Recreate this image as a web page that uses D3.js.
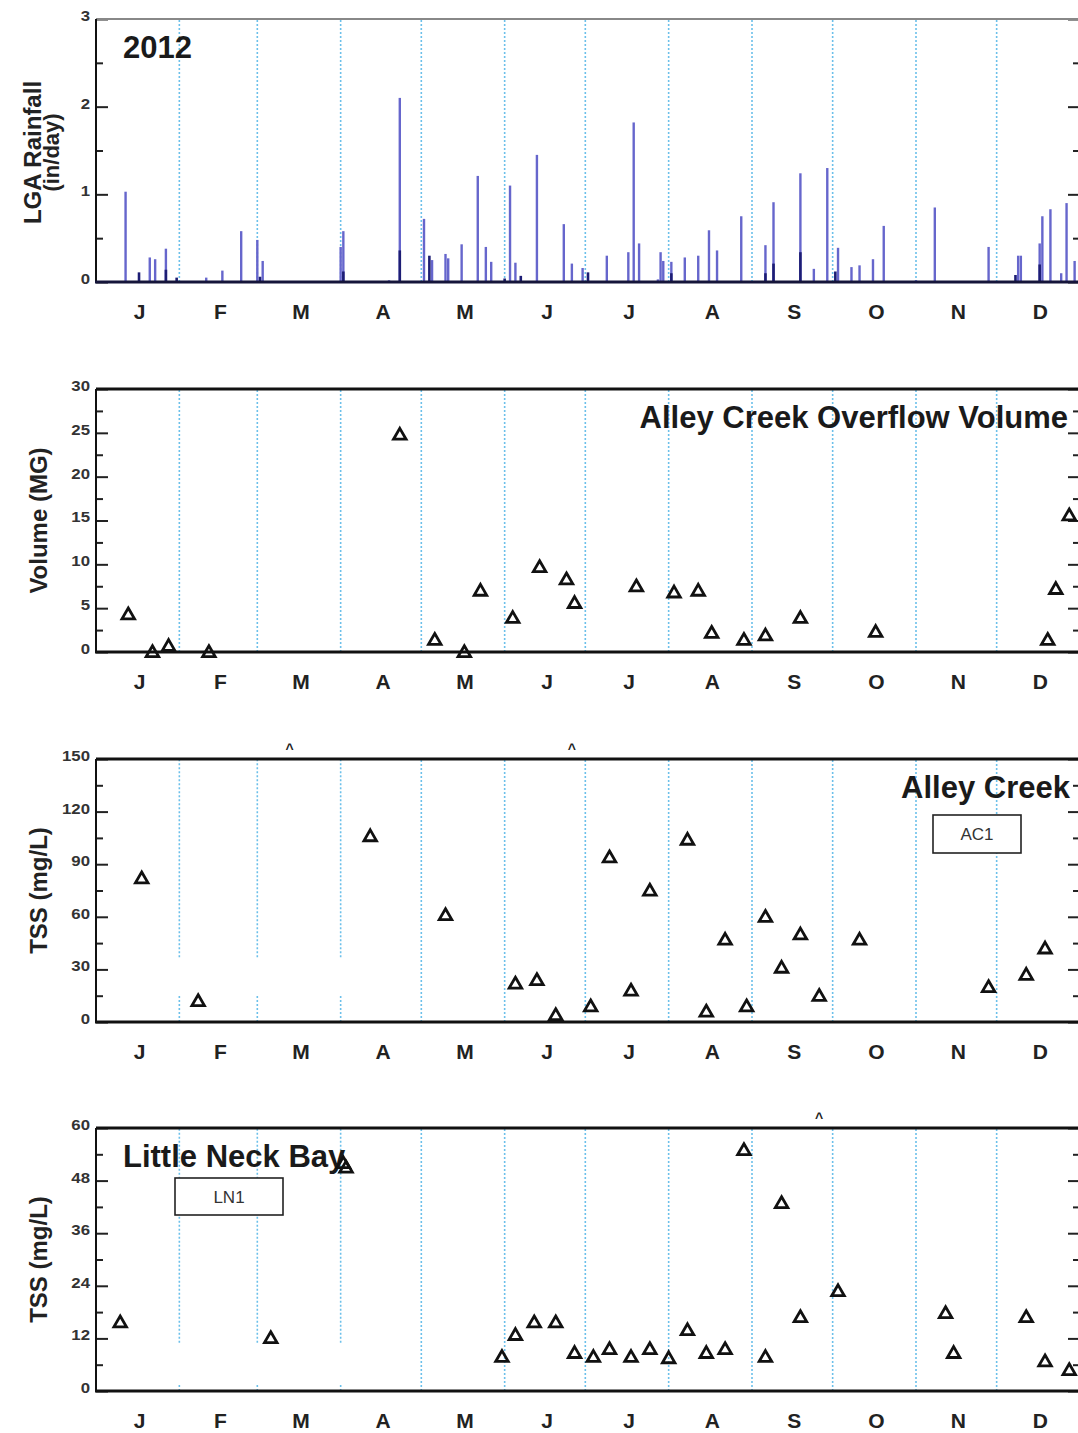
<!DOCTYPE html>
<html>
<head>
<meta charset="utf-8">
<script src="https://cdn.jsdelivr.net/npm/d3@7"></script>
<style>
  body { margin: 0; background: #fff; }
  svg { display: block; font-family: "Liberation Sans", Arial, sans-serif; }
</style>
</head>
<body>
<div id="chart"></div>
<script>
// ---- data ----
const monthLetters = ["J", "F", "M", "A", "M", "J", "J", "A", "S", "O", "N", "D"];

// LGA daily rainfall (in/day), 2012
const rainDates = ["2012-01-12","2012-01-21","2012-01-23","2012-01-27","2012-02-11","2012-02-17","2012-02-24",
  "2012-03-01","2012-03-03","2012-03-13","2012-04-01","2012-04-02","2012-04-19","2012-04-23","2012-05-02",
  "2012-05-05","2012-05-10","2012-05-11","2012-05-16","2012-05-22","2012-05-25","2012-05-27","2012-06-03",
  "2012-06-05","2012-06-13","2012-06-23","2012-06-26","2012-06-30","2012-07-09","2012-07-17","2012-07-19",
  "2012-07-21","2012-07-28","2012-07-29","2012-07-30","2012-08-02","2012-08-07","2012-08-12","2012-08-16",
  "2012-08-19","2012-08-28","2012-09-06","2012-09-09","2012-09-19","2012-09-24","2012-09-29","2012-10-03",
  "2012-10-08","2012-10-11","2012-10-16","2012-10-20","2012-11-01","2012-11-08","2012-11-28","2012-12-09",
  "2012-12-10","2012-12-17","2012-12-18","2012-12-21","2012-12-25","2012-12-27","2012-12-30"];
const rainValues = [1.03,0.28,0.26,0.38,0.05,0.13,0.58,
  0.48,0.24,0.01,0.40,0.58,0.02,2.10,0.72,
  0.25,0.32,0.27,0.43,1.21,0.40,0.23,1.10,
  0.22,1.45,0.66,0.21,0.16,0.30,0.34,1.82,
  0.44,0.03,0.34,0.24,0.23,0.28,0.30,0.59,
  0.36,0.75,0.42,0.91,1.24,0.15,1.30,0.39,
  0.17,0.19,0.26,0.64,0.02,0.85,0.40,0.30,
  0.30,0.44,0.75,0.83,0.10,0.90,0.24];

// darker short bars in the rainfall panel
const rainDarkDates = ["2012-01-17","2012-01-27","2012-01-31","2012-03-02","2012-04-02","2012-04-23","2012-05-04",
  "2012-06-01","2012-06-07","2012-07-02","2012-08-02","2012-09-06","2012-09-09","2012-09-19","2012-10-02",
  "2012-12-08","2012-12-17"];
const rainDarkValues = [0.11,0.14,0.05,0.06,0.12,0.36,0.30,
  0.04,0.07,0.11,0.10,0.10,0.21,0.34,0.12,
  0.08,0.20];

// Alley Creek overflow volume (MG)
const volumeDates = ["2012-01-13","2012-01-22","2012-01-28","2012-02-12","2012-04-23","2012-05-06","2012-05-17",
  "2012-05-23","2012-06-04","2012-06-14","2012-06-24","2012-06-27","2012-07-20","2012-08-03","2012-08-12",
  "2012-08-17","2012-08-29","2012-09-06","2012-09-19","2012-10-17","2012-12-20","2012-12-23","2012-12-28"];
const volumeValues = [4.3,0,0.7,0,24.8,1.4,0,
  7.0,3.9,9.7,8.3,5.6,7.5,6.8,7.0,
  2.2,1.4,1.9,3.9,2.3,1.4,7.2,15.6];

// Alley Creek TSS (mg/L), station AC1
const tssACDates = ["2012-01-18","2012-02-08","2012-04-12","2012-05-10","2012-06-05","2012-06-13","2012-06-20",
  "2012-07-03","2012-07-10","2012-07-18","2012-07-25","2012-08-08","2012-08-15","2012-08-22","2012-08-30",
  "2012-09-06","2012-09-12","2012-09-19","2012-09-26","2012-10-11","2012-11-28","2012-12-12","2012-12-19"];
const tssACValues = [82,12,106,61,22,24,4,
  9,94,18,75,104,6,47,9,
  60,31,50,15,47,20,27,42];
const tssACOffScale = ["2012-03-13","2012-06-26"];

// Little Neck Bay TSS (mg/L), station LN1
const tssLNDates = ["2012-01-10","2012-03-06","2012-04-02","2012-04-03","2012-05-31","2012-06-05","2012-06-12",
  "2012-06-20","2012-06-27","2012-07-04","2012-07-10","2012-07-18","2012-07-25","2012-08-01","2012-08-08",
  "2012-08-15","2012-08-22","2012-08-29","2012-09-06","2012-09-12","2012-09-19","2012-10-03","2012-11-12",
  "2012-11-15","2012-12-12","2012-12-19","2012-12-28"];
const tssLNValues = [15.7,12.1,52,51,7.8,12.8,15.7,
  15.7,8.7,7.8,9.6,7.8,9.6,7.5,13.9,
  8.7,9.6,55,7.8,42.9,16.9,22.8,17.8,
  8.7,16.9,6.8,4.8];
const tssLNOffScale = ["2012-09-26"];

// ---- layout ----
const width = 1078, height = 1433;
const parse = d3.utcParse("%Y-%m-%d");
const x = d3.scaleUtc()
  .domain([new Date(Date.UTC(2012, 0, 1)), new Date(Date.UTC(2013, 0, 1))])
  .range([96, 1080]);
const months = d3.utcMonths(new Date(Date.UTC(2012, 0, 1)), new Date(Date.UTC(2013, 0, 1)));

const svg = d3.select("#chart").append("svg")
  .attr("width", width)
  .attr("height", height);

function drawPanel(p) {
  const y = d3.scaleLinear().domain([0, p.max]).range([p.bottom, p.top]);
  const g = svg.append("g");

  // dotted month boundaries
  months.slice(1).forEach((m, i) => {
    const gap = p.gaps && p.gaps.months.includes(i + 1) ? p.gaps.range : null;
    const segs = gap ? [[0, gap[0]], [gap[1], p.max]] : [[0, p.max]];
    segs.forEach((s) => {
      g.append("line")
        .attr("x1", x(m)).attr("x2", x(m))
        .attr("y1", y(s[0])).attr("y2", y(s[1]))
        .attr("stroke", "#6cc0ea")
        .attr("stroke-width", 1.6)
        .attr("stroke-dasharray", "2,2");
    });
  });

  // ticks left and right (inward)
  const majors = d3.range(0, p.max + 0.001, p.major);
  const minors = d3.range(0, p.max + 0.001, p.major / 2).filter((v) => !majors.some((m) => Math.abs(m - v) < 1e-6));

  const left = g.append("g").attr("transform", "translate(96,0)")
    .call(d3.axisLeft(y).tickValues(majors).tickSize(-12).tickPadding(5).tickFormat(d3.format("d")));
  left.append("g")
    .call(d3.axisLeft(y).tickValues(minors).tickSize(-7).tickFormat(""));
  left.selectAll(".domain").remove();
  left.selectAll(".tick line").attr("stroke", "#222").attr("stroke-width", 2);
  left.selectAll(".tick text")
    .attr("dy", "0.1em")
    .attr("transform", "scale(1.2,1)")
    .attr("fill", "#333")
    .style("font-size", "14px")
    .style("font-weight", "bold");

  const right = g.append("g").attr("transform", "translate(1080,0)")
    .call(d3.axisRight(y).tickValues(majors).tickSize(-12).tickFormat(""));
  right.append("g")
    .call(d3.axisRight(y).tickValues(minors).tickSize(-7).tickFormat(""));
  right.selectAll(".domain").remove();
  right.selectAll(".tick line").attr("stroke", "#222").attr("stroke-width", 2);

  // frame
  g.append("line").attr("x1", 96).attr("x2", 1080).attr("y1", p.top).attr("y2", p.top)
    .attr("stroke", p.topColor).attr("stroke-width", p.topWidth);
  g.append("line").attr("x1", 96).attr("x2", 96).attr("y1", p.top).attr("y2", p.bottom)
    .attr("stroke", "#111").attr("stroke-width", 2);

  // month letters
  months.forEach((m, i) => {
    const next = d3.utcMonth.offset(m, 1);
    g.append("text")
      .attr("x", (x(m) + x(next)) / 2 + 2)
      .attr("y", p.bottom + 37)
      .attr("text-anchor", "middle")
      .attr("fill", "#222")
      .style("font-size", "21px")
      .style("font-weight", "bold")
      .text(monthLetters[i]);
  });

  // y title
  const t = g.append("text")
    .attr("transform", `translate(${p.titleX},${(p.top + p.bottom) / 2 + (p.titleShift || 0)}) rotate(-90)`)
    .attr("text-anchor", "middle")
    .attr("fill", "#222")
    .style("font-weight", "bold");
  p.yTitle.forEach((line, i) => {
    t.append("tspan").attr("x", 0).attr("dy", i === 0 ? 0 : 18)
      .style("font-size", i === 0 ? "24px" : "22px")
      .text(line);
  });

  return { y, g };
}

function bottomLine(p, color) {
  svg.append("line").attr("x1", 95).attr("x2", 1080).attr("y1", p.bottom).attr("y2", p.bottom)
    .attr("stroke", color).attr("stroke-width", 3);
}

const triangle = d3.symbol().type(d3.symbolTriangle).size(68);

function drawTriangles(y, dates, values) {
  svg.append("g").selectAll("path")
    .data(dates.map((d, i) => ({ date: parse(d), value: values[i] })))
    .join("path")
    .attr("d", triangle)
    .attr("transform", (d) => `translate(${x(d.date)},${y(d.value) + 1})`)
    .attr("fill", "none")
    .attr("stroke", "#111")
    .attr("stroke-width", 2.8)
    .attr("stroke-linejoin", "miter");
}

function drawCarets(p, dates) {
  svg.append("g").selectAll("text")
    .data(dates.map(parse))
    .join("text")
    .attr("x", (d) => x(d))
    .attr("y", p.top - 5)
    .attr("text-anchor", "middle")
    .attr("fill", "#222")
    .style("font-size", "14px")
    .style("font-weight", "bold")
    .text("^");
}

function panelLabel(txt, xPos, yPos, anchor, size) {
  svg.append("text")
    .attr("x", xPos).attr("y", yPos)
    .attr("text-anchor", anchor)
    .attr("fill", "#1a1a1a")
    .style("font-size", size + "px")
    .style("font-weight", "bold")
    .text(txt);
}

function stationBox(txt, bx, by, bw, bh) {
  svg.append("rect").attr("x", bx).attr("y", by).attr("width", bw).attr("height", bh)
    .attr("fill", "#fff").attr("stroke", "#222").attr("stroke-width", 1.6);
  svg.append("text").attr("x", bx + bw / 2).attr("y", by + bh / 2 + 6)
    .attr("text-anchor", "middle").attr("fill", "#333")
    .style("font-size", "17px").text(txt);
}

// ---- panel 1: rainfall ----
const p1 = { top: 19, bottom: 282, max: 3, major: 1, topColor: "#888", topWidth: 2,
  titleX: 41, titleShift: 2, yTitle: ["LGA Rainfall", "(in/day)"] };
const r = drawPanel(p1);
svg.append("g").selectAll("line")
  .data(rainDates.map((d, i) => ({ date: parse(d), value: rainValues[i] })))
  .join("line")
  .attr("x1", (d) => x(d.date)).attr("x2", (d) => x(d.date))
  .attr("y1", r.y(0)).attr("y2", (d) => r.y(d.value))
  .attr("stroke", "#6666cc")
  .attr("stroke-width", 2.4);
svg.append("g").selectAll("line")
  .data(rainDarkDates.map((d, i) => ({ date: parse(d), value: rainDarkValues[i] })))
  .join("line")
  .attr("x1", (d) => x(d.date)).attr("x2", (d) => x(d.date))
  .attr("y1", r.y(0)).attr("y2", (d) => r.y(d.value))
  .attr("stroke", "#1d1d74")
  .attr("stroke-width", 2.6);
bottomLine(p1, "#15153a");
panelLabel("2012", 123, 58, "start", 31);

// ---- panel 2: overflow volume ----
const p2 = { top: 389, bottom: 652, max: 30, major: 5, topColor: "#111", topWidth: 3,
  titleX: 47, yTitle: ["Volume (MG)"] };
const v = drawPanel(p2);
bottomLine(p2, "#111");
panelLabel("Alley Creek Overflow Volume", 1068, 428, "end", 31);
drawTriangles(v.y, volumeDates, volumeValues);

// ---- panel 3: Alley Creek TSS ----
const p3 = { top: 759, bottom: 1022, max: 150, major: 30, topColor: "#111", topWidth: 3,
  titleX: 47, yTitle: ["TSS (mg/L)"], gaps: { months: [1, 2, 3], range: [16, 37] } };
const a = drawPanel(p3);
bottomLine(p3, "#111");
panelLabel("Alley Creek", 1070, 798, "end", 31);
stationBox("AC1", 933, 815, 88, 38);
drawTriangles(a.y, tssACDates, tssACValues);
drawCarets(p3, tssACOffScale);

// ---- panel 4: Little Neck Bay TSS ----
const p4 = { top: 1128, bottom: 1391, max: 60, major: 12, topColor: "#111", topWidth: 3,
  titleX: 47, yTitle: ["TSS (mg/L)"], gaps: { months: [1, 2, 3], range: [1.5, 11] } };
const l = drawPanel(p4);
bottomLine(p4, "#111");
panelLabel("Little Neck Bay", 123, 1167, "start", 31);
stationBox("LN1", 175, 1178, 108, 37);
drawTriangles(l.y, tssLNDates, tssLNValues);
drawCarets(p4, tssLNOffScale);
</script>
</body>
</html>
